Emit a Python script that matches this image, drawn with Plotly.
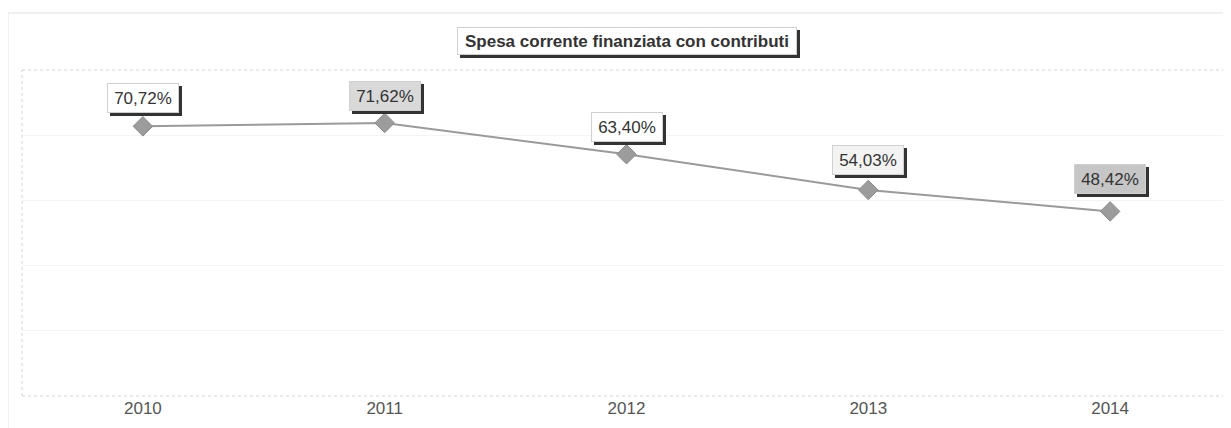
import plotly.graph_objects as go

# dati
anni = ["2010", "2011", "2012", "2013", "2014"]
percentuali = [70.72, 71.62, 63.40, 54.03, 48.42]
etichette = ["70,72%", "71,62%", "63,40%", "54,03%", "48,42%"]
titolo = "Spesa corrente finanziata con contributi"

# stile etichette (sfondo dei box, come nella scansione)
sfondi = ["#ffffff", "#d9d9d9", "#ffffff", "#f3f3f3", "#c6c6c6"]
alzo = [28, 27, 27, 30, 32]

FONT = "Liberation Sans, Arial, sans-serif"
SCURO = "#333333"

fig = go.Figure()
fig.add_trace(go.Scatter(
    x=anni,
    y=percentuali,
    mode="lines+markers",
    line=dict(color="#9a9a9a", width=2),
    marker=dict(symbol="diamond", size=15, color="#9c9c9c",
                line=dict(color="#8a8a8a", width=1)),
    hoverinfo="skip",
    showlegend=False,
))


def box_con_ombra(testo, bg, w, h, size, **pos):
    """Box di testo con ombra scura spostata a destra e in basso."""
    xs = pos.pop("xshift", 0)
    ys = pos.pop("yshift", 0)
    fig.add_annotation(text=" ", showarrow=False, width=w, height=h,
                       xshift=xs + 3, yshift=ys - 3,
                       bgcolor=SCURO, bordercolor=SCURO, borderwidth=1,
                       borderpad=3, **pos)
    fig.add_annotation(text=testo, showarrow=False, width=w, height=h,
                       xshift=xs, yshift=ys,
                       font=dict(family=FONT, size=size, color=SCURO),
                       bgcolor=bg, bordercolor="#d0d0d0", borderwidth=1,
                       borderpad=3, **pos)


# etichette dei valori (x = indice della categoria)
for i, (val, txt, bg, dy) in enumerate(zip(percentuali, etichette, sfondi, alzo)):
    box_con_ombra(txt, bg, 64, 22, 17, x=i, y=val, yshift=dy)

# titolo
box_con_ombra(f"<b>{titolo}</b>", "#ffffff", 332, 20, 17,
              x=0.5, y=1.132, xref="paper", yref="paper")

# cornici leggere (area grafico e riquadro esterno)
grigio = "#d4d4d4"
fig.add_shape(type="line", xref="paper", yref="paper", x0=0, x1=0, y0=0, y1=1,
              line=dict(color=grigio, width=1, dash="dot"))
fig.add_shape(type="line", xref="paper", yref="paper", x0=0, x1=1, y0=0, y1=0,
              line=dict(color=grigio, width=1, dash="dot"))
fig.add_shape(type="line", xref="paper", yref="paper", x0=0, x1=1, y0=1, y1=1,
              line=dict(color=grigio, width=1, dash="dot"))
fig.add_shape(type="line", xref="paper", yref="paper", x0=-0.0116, x1=-0.0116,
              y0=-0.12, y1=1.175, line=dict(color="#e0e0e0", width=1))
fig.add_shape(type="line", xref="paper", yref="paper", x0=-0.0116, x1=1,
              y0=1.175, y1=1.175, line=dict(color="#e0e0e0", width=1))

# la pagina ha un margine di 8px: figura ridotta per stare nella finestra
fig.update_layout(
    width=1223,
    height=420,
    margin=dict(l=14, r=0, t=62, b=32),
    paper_bgcolor="white",
    plot_bgcolor="white",
    font=dict(family=FONT),
    xaxis=dict(type="category", range=[-0.5, 4.5], showgrid=False, zeroline=False,
               showline=False, ticks="",
               tickfont=dict(family=FONT, size=17, color="#555555")),
    yaxis=dict(range=[0, 85.5], dtick=17.1, showticklabels=False, zeroline=False,
               showline=False, gridcolor="#f4f4f4", gridwidth=1),
)

fig.write_html("out.html")
